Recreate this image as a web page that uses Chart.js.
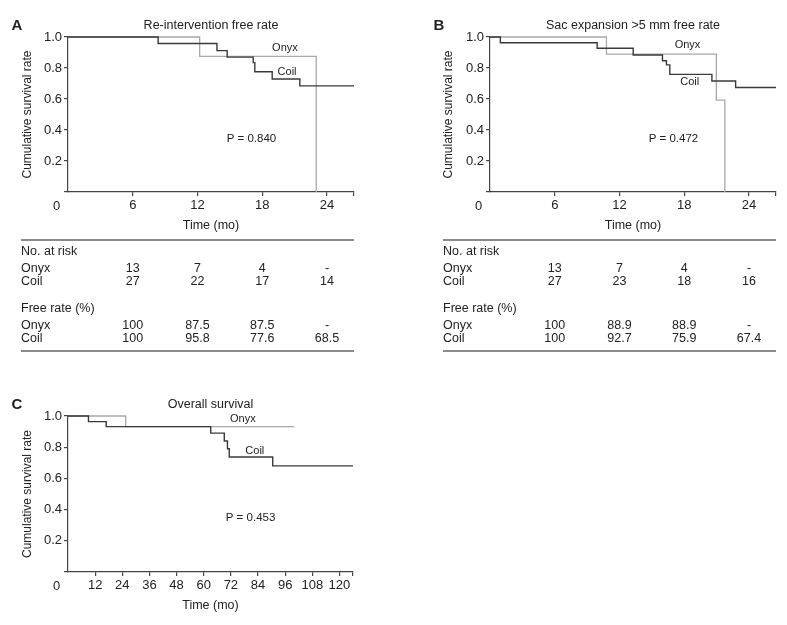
<!DOCTYPE html>
<html>
<head>
<meta charset="utf-8">
<script src="https://cdn.jsdelivr.net/npm/chart.js@4.4.0/dist/chart.umd.min.js"></script>
<style>
body { margin: 0; background: #fff; width: 787px; height: 625px; overflow: hidden; position: relative; }
canvas { position: absolute; }
</style>
</head>
<body>
<canvas id="chartA" width="370" height="360" style="left:0px;top:0px"></canvas>
<canvas id="chartB" width="366" height="360" style="left:421px;top:0px"></canvas>
<canvas id="chartC" width="370" height="245" style="left:0px;top:380px"></canvas>
<script>
const FONT = '"Liberation Sans", Arial, sans-serif'

// A - re-intervention free rate
const timeCoilA = [0, 8.35, 13.8, 14.75, 17.16, 17.31, 18.92, 21.48, 26.5]
const survCoilA = [1, 0.958, 0.912, 0.870, 0.835, 0.776, 0.729, 0.685, 0.685]
const timeOnyxA = [0, 12.2, 23.0]
const survOnyxA = [1, 0.875, 0]
const riskOnyxA = ['13', '7', '4', '-']
const riskCoilA = ['27', '22', '17', '14']
const freeOnyxA = ['100', '87.5', '87.5', '-']
const freeCoilA = ['100', '95.8', '77.6', '68.5']

// B - sac expansion >5 mm free rate
const timeCoilB = [0, 0.96, 9.93, 13.27, 15.98, 16.35, 16.66, 20.56, 22.76, 26.5]
const survCoilB = [1, 0.963, 0.927, 0.884, 0.847, 0.820, 0.759, 0.716, 0.674, 0.674]
const timeOnyxB = [0, 10.79, 20.97, 21.76]
const survOnyxB = [1, 0.889, 0.593, 0]
const riskOnyxB = ['13', '7', '4', '-']
const riskCoilB = ['27', '23', '18', '16']
const freeOnyxB = ['100', '88.9', '88.9', '-']
const freeCoilB = ['100', '92.7', '75.9', '67.4']

// C - overall survival
const timeCoilC = [0, 9.05, 16.9, 63.1, 69.1, 70.5, 71.3, 90.5, 126]
const survCoilC = [1, 0.964, 0.932, 0.890, 0.840, 0.790, 0.737, 0.680, 0.680]
const timeOnyxC = [0, 25.5, 100]
const survOnyxC = [1, 0.932, 0.932]

const ticksShort = [0, 6, 12, 18, 24]
const ticksLong = [0, 12, 24, 36, 48, 60, 72, 84, 96, 108, 120]
const riskTimes = [6, 12, 18, 24]
const yTicks = [0, 0.2, 0.4, 0.6, 0.8, 1.0]

Chart.defaults.font.family = FONT

function pts(t, s) {
    return t.map((v, i) => ({x: v, y: s[i]}))
}

function panelPlugin(p) {
    return {
        id: 'panel' + p.letter,
        afterDraw(chart) {
            const ctx = chart.ctx, a = chart.chartArea
            const xs = chart.scales.x, ys = chart.scales.y
            ctx.save()
            ctx.fillStyle = '#222'
            ctx.textBaseline = 'middle'
            ctx.textAlign = 'center'
            ctx.font = 'bold 15px ' + FONT
            ctx.fillText(p.letter, p.letterX, a.top - 11)
            ctx.font = '12.5px ' + FONT
            ctx.fillText(p.title, (a.left + a.right) / 2, a.top - 11)
            ctx.font = '13px ' + FONT
            ctx.fillText('0', a.left - 11.5, a.bottom + 14)

            ctx.font = '11px ' + FONT
            ctx.fillText('Onyx', xs.getPixelForValue(p.onyxAt[0]), ys.getPixelForValue(p.onyxAt[1]))
            ctx.fillText('Coil', xs.getPixelForValue(p.coilAt[0]), ys.getPixelForValue(p.coilAt[1]))
            ctx.font = '11.5px ' + FONT
            ctx.fillText(p.pText, xs.getPixelForValue(p.pAt[0]), ys.getPixelForValue(p.pAt[1]))

            if (p.table) {
                const L = p.tableLeft, R = a.right
                ctx.strokeStyle = '#666'
                ctx.lineWidth = 1.3
                ctx.beginPath()
                ctx.moveTo(L, 240); ctx.lineTo(R, 240)
                ctx.moveTo(L, 351); ctx.lineTo(R, 351)
                ctx.stroke()
                ctx.font = '12.5px ' + FONT
                ctx.textAlign = 'left'
                ctx.fillText('No. at risk', L, 252)
                ctx.fillText('Onyx', L, 269)
                ctx.fillText('Coil', L, 282)
                ctx.fillText('Free rate (%)', L, 309)
                ctx.fillText('Onyx', L, 326)
                ctx.fillText('Coil', L, 339)
                ctx.textAlign = 'center'
                const rows = [[p.table.riskOnyx, 269], [p.table.riskCoil, 282], [p.table.freeOnyx, 326], [p.table.freeCoil, 339]]
                rows.forEach(([vals, y]) => {
                    vals.forEach((v, i) => {
                        ctx.fillText(v, xs.getPixelForValue(riskTimes[i]), y)
                    })
                })
            }
            ctx.restore()
        }
    }
}

function makePanel(id, p) {
    const xTickList = p.xTicks.concat([p.xMax])
    return new Chart(document.getElementById(id), {
        type: 'scatter',
        data: {
            datasets: [
                {label: 'Coil', data: pts(p.coilT, p.coilS), showLine: true, stepped: 'before',
                 pointRadius: 0, borderColor: '#3a3a3a', borderWidth: 1.4, clip: 3},
                {label: 'Onyx', data: pts(p.onyxT, p.onyxS), showLine: true, stepped: 'before',
                 pointRadius: 0, borderColor: '#a8a8a8', borderWidth: 1.3, clip: 3}
            ]
        },
        options: {
            responsive: false,
            animation: false,
            layout: {padding: {left: 0, top: p.top, right: p.right, bottom: p.bottom}},
            plugins: {legend: {display: false}, tooltip: {enabled: false}},
            scales: {
                x: {
                    type: 'linear', min: 0, max: p.xMax,
                    afterBuildTicks: s => { s.ticks = xTickList.map(v => ({value: v})) },
                    afterFit: s => { s.height = 45 },
                    ticks: {
                        autoSkip: false, maxRotation: 0, padding: 2, color: '#222',
                        font: {size: 13},
                        callback: v => (v === 0 || v === p.xMax) ? '' : String(v)
                    },
                    grid: {
                        drawOnChartArea: false, drawTicks: true, tickLength: 4, lineWidth: 1.2,
                        color: c => (c.tick && c.tick.value === 0) ? 'rgba(0,0,0,0)' : '#444'
                    },
                    border: {display: true, color: '#444', width: 1.2},
                    title: {display: true, text: 'Time (mo)', color: '#222', font: {size: 12.5},
                            padding: {top: 0, bottom: 4}}
                },
                y: {
                    min: 0, max: 1,
                    afterBuildTicks: s => { s.ticks = yTicks.map(v => ({value: v})) },
                    afterFit: s => { s.width = p.yw },
                    ticks: {
                        padding: 2, color: '#222', font: {size: 13},
                        callback: v => v === 0 ? '' : v.toFixed(1)
                    },
                    grid: {drawOnChartArea: false, drawTicks: true, tickLength: 4, lineWidth: 1.2, color: '#444'},
                    border: {display: true, color: '#444', width: 1.2},
                    title: {display: true, text: 'Cumulative survival rate', color: '#222', font: {size: 12},
                            padding: {top: 20, bottom: 0}}
                }
            }
        },
        plugins: [panelPlugin(p)]
    })
}

makePanel('chartA', {
    letter: 'A', letterX: 17, title: 'Re-intervention free rate',
    coilT: timeCoilA, coilS: survCoilA, onyxT: timeOnyxA, onyxS: survOnyxA,
    xMax: 26.5, xTicks: ticksShort, yw: 68, top: 37, right: 16, bottom: 123,
    onyxAt: [20.1, 0.929], coilAt: [20.3, 0.774], pText: 'P = 0.840', pAt: [17.0, 0.342],
    tableLeft: 21,
    table: {riskOnyx: riskOnyxA, riskCoil: riskCoilA, freeOnyx: freeOnyxA, freeCoil: freeCoilA}
})

makePanel('chartB', {
    letter: 'B', letterX: 18, title: 'Sac expansion >5 mm free rate',
    coilT: timeCoilB, coilS: survCoilB, onyxT: timeOnyxB, onyxS: survOnyxB,
    xMax: 26.5, xTicks: ticksShort, yw: 69, top: 37, right: 11, bottom: 123,
    onyxAt: [18.3, 0.948], coilAt: [18.5, 0.71], pText: 'P = 0.472', pAt: [17.0, 0.342],
    tableLeft: 22,
    table: {riskOnyx: riskOnyxB, riskCoil: riskCoilB, freeOnyx: freeOnyxB, freeCoil: freeCoilB}
})

makePanel('chartC', {
    letter: 'C', letterX: 17, title: 'Overall survival',
    coilT: timeCoilC, coilS: survCoilC, onyxT: timeOnyxC, onyxS: survOnyxC,
    xMax: 126, xTicks: ticksLong, yw: 68, top: 36, right: 17, bottom: 8,
    onyxAt: [77.3, 0.979], coilAt: [82.6, 0.776], pText: 'P = 0.453', pAt: [80.7, 0.346],
    tableLeft: 21, table: null
})
</script>
</body>
</html>
